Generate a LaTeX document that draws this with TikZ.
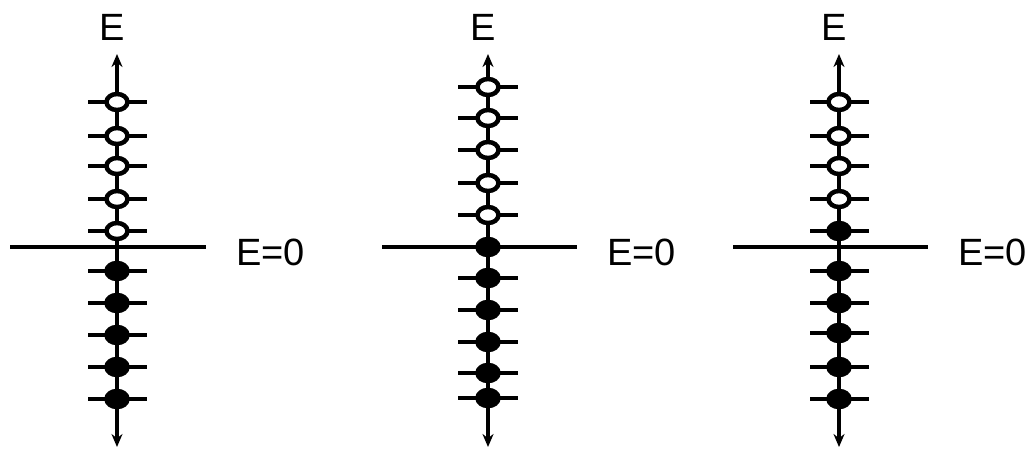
\documentclass[tikz,border=0pt]{standalone}
\usepackage{fontspec}
\setmainfont{Liberation Sans}
\usetikzlibrary{shapes.geometric,arrows.meta}
\begin{document}
\begin{tikzpicture}[x=1pt,y=-1pt,
  lvl/.style={ellipse, draw, line width=4.5pt, minimum width=21pt, minimum height=16pt, inner sep=0pt},
  hole/.style={lvl, fill=white},
  elec/.style={lvl, fill=black},
  tickline/.style={line width=4.5pt},
  axisline/.style={line width=4.5pt, {Stealth[length=13pt,width=11pt]}-{Stealth[length=13pt,width=11pt]}},
  lab/.style={font=\fontsize{38}{38}\selectfont, inner sep=0pt}]
\useasboundingbox (0,0) rectangle (1027,451);
% ---------- panel 1 ----------
\coordinate (t1) at (117,54);
\coordinate (b1) at (117,447);
\draw[axisline] (b1) -- (t1);
\coordinate (z1l) at (10,247);
\coordinate (z1r) at (206,247);
\draw[tickline] (z1l) -- (z1r);
\node[lab] (e1) at (112,27) {E};
\node[lab, anchor=west] (z1) at (236,252) {E=0};
\foreach \y [count=\i] in {102,136,166,199,231}{
  \draw[tickline] (88,\y) -- (147,\y);
  \node[hole] (h1\i) at (117,\y) {};
}
\foreach \y [count=\i] in {271,303,335,367,399}{
  \draw[tickline] (88,\y) -- (147,\y);
  \node[elec] (f1\i) at (117,\y) {};
}
% ---------- panel 2 ----------
\coordinate (t2) at (488,54);
\coordinate (b2) at (488,447);
\draw[axisline] (b2) -- (t2);
\coordinate (z2l) at (382,247);
\coordinate (z2r) at (577,247);
\draw[tickline] (z2l) -- (z2r);
\node[lab] (e2) at (483.5,27) {E};
\node[lab, anchor=west] (z2) at (607,252) {E=0};
\foreach \y [count=\i] in {87,118,150,183,215}{
  \draw[tickline] (458,\y) -- (518,\y);
  \node[hole] (h2\i) at (488,\y) {};
}
\foreach \y [count=\i] in {247,278,310,342,373,398}{
  \draw[tickline] (458,\y) -- (518,\y);
  \node[elec] (f2\i) at (488,\y) {};
}
% ---------- panel 3 ----------
\coordinate (t3) at (839,54);
\coordinate (b3) at (839,447);
\draw[axisline] (b3) -- (t3);
\coordinate (z3l) at (733,247);
\coordinate (z3r) at (928,247);
\draw[tickline] (z3l) -- (z3r);
\node[lab] (e3) at (834.5,27) {E};
\node[lab, anchor=west] (z3) at (958,252) {E=0};
\foreach \y [count=\i] in {102,136,166,199}{
  \draw[tickline] (810,\y) -- (869,\y);
  \node[hole] (h3\i) at (839,\y) {};
}
\foreach \y [count=\i] in {231,271,303,333,367,399}{
  \draw[tickline] (810,\y) -- (869,\y);
  \node[elec] (f3\i) at (839,\y) {};
}
\end{tikzpicture}
\end{document}
